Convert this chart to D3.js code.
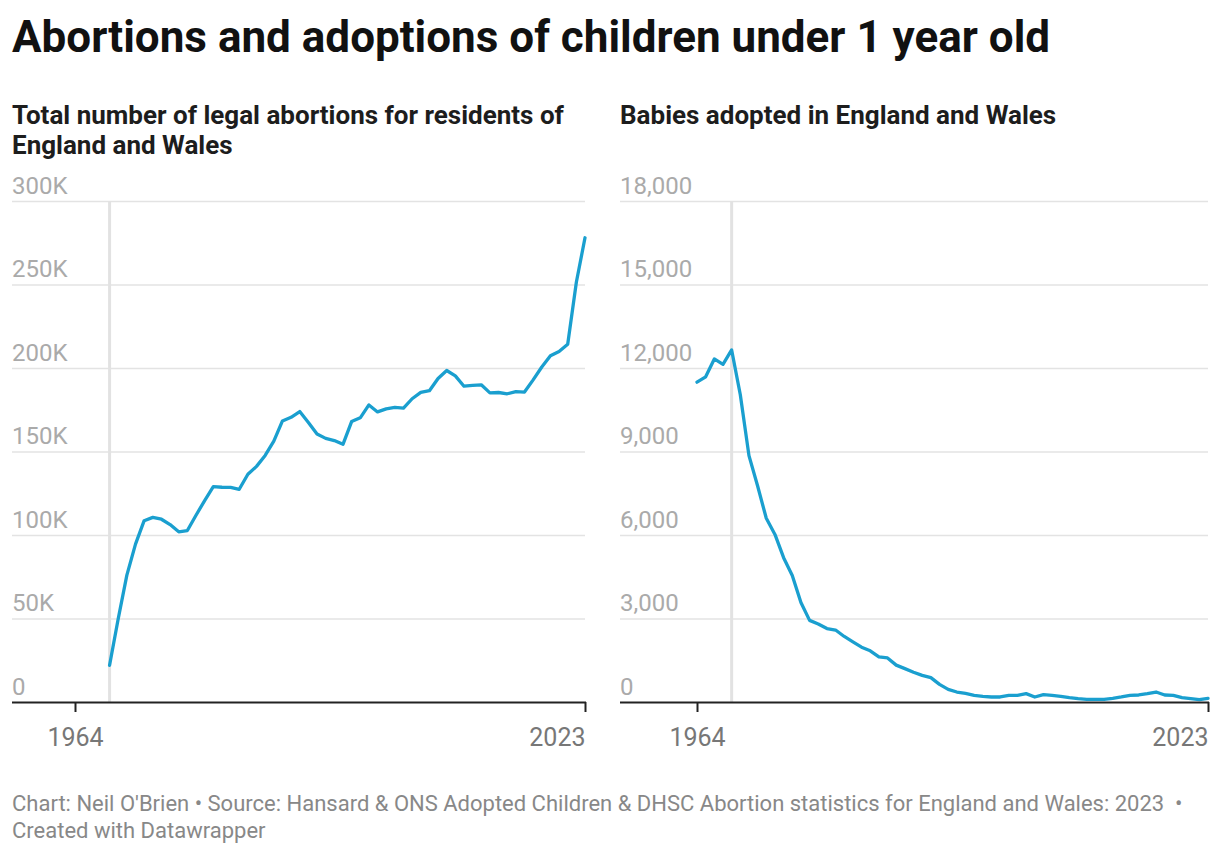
<!DOCTYPE html>
<html><head><meta charset="utf-8">
<script src="https://cdn.jsdelivr.net/npm/d3@7"></script>
<style>
body{margin:0;background:#fff;font-family:Roboto,"Noto Sans",sans-serif;}
svg{display:block;}
</style></head>
<body>
<svg id="c" width="1220" height="854"></svg>
<script>
const abortionYears = d3.range(1968, 2024);
const abortionValues = [
  22000, 49829, 75962, 94570, 108565, 110568, 109445, 106224, 101912, 102677,
  111851, 120611, 128927, 128581, 128553, 127375, 136388, 141101, 147619, 156191,
  168298, 170463, 173900, 167376, 160495, 157846, 156539, 154315, 167916, 170145,
  177871, 173701, 175542, 176364, 175932, 181582, 185415, 186416, 193737, 198499,
  195296, 189100, 189574, 189931, 185122, 185331, 184571, 185824, 185596, 192900,
  200608, 207384, 209917, 214256, 251377, 277970
];
const adoptionYears = d3.range(1964, 2024);
const adoptionValues = [
  11490, 11683, 12326, 12133, 12648, 11039, 8852, 7758, 6600, 6021,
  5185, 4542, 3577, 2933, 2805, 2638, 2586, 2355, 2162, 1969,
  1840, 1621, 1583, 1325, 1200, 1070, 958, 875, 635, 455,
  359, 311, 240, 204, 180, 180, 240, 240, 300, 180,
  264, 240, 204, 156, 120, 96, 96, 96, 132, 180,
  240, 252, 300, 359, 252, 240, 156, 120, 84, 132
];
const leftTicks = [0, 50000, 100000, 150000, 200000, 250000, 300000];
const leftTickLabels = ["0", "50K", "100K", "150K", "200K", "250K", "300K"];
const rightTicks = [0, 3000, 6000, 9000, 12000, 15000, 18000];
const rightTickLabels = ["0", "3,000", "6,000", "9,000", "12,000", "15,000", "18,000"];
const xTickYears = [1964, 2023];
const markerYear = 1968;

const svg = d3.select("#c");
const LINE = "#1a9fcf";

svg.append("text").attr("x", 12).attr("y", 52)
  .attr("font-size", 44).attr("font-weight", 700).attr("fill", "#111")
  .text("Abortions and adoptions of children under 1 year old");

function panel(opt) {
  const g = svg.append("g");
  const x = d3.scaleLinear().domain([1964, 2023]).range([opt.x0, opt.x1]);
  const y = d3.scaleLinear().domain([0, opt.max]).range([702, 201]);

  opt.title.forEach((t, i) => {
    g.append("text").attr("x", opt.left).attr("y", 124 + i * 30)
      .attr("font-size", 26).attr("font-weight", 700).attr("fill", "#1d1d1d").text(t);
  });

  const yAxis = d3.axisRight(y).tickValues(opt.ticks)
    .tickSize(opt.x1 - opt.left)
    .tickFormat((d, i) => opt.labels[i]);
  const ya = g.append("g").attr("transform", `translate(${opt.left},0)`).call(yAxis);
  ya.select(".domain").remove();
  ya.selectAll(".tick line").attr("stroke", "#e3e3e3").attr("stroke-width", 1.5);
  ya.selectAll(".tick text").attr("x", 0).attr("y", -8).attr("dy", 0).attr("text-anchor", "start")
    .attr("font-size", 24).attr("font-family", "Roboto").attr("fill", "#aaaaaa");
  ya.selectAll(".tick").filter(d => d === 0).select("line").remove();

  g.append("line").attr("x1", x(markerYear)).attr("x2", x(markerYear))
    .attr("y1", 201).attr("y2", 702).attr("stroke", "#e2e2e2").attr("stroke-width", 3);

  const line = d3.line().x(d => x(d[0])).y(d => y(d[1]));
  g.append("path").datum(opt.years.map((yr, i) => [yr, opt.values[i]]))
    .attr("d", line).attr("fill", "none").attr("stroke", LINE)
    .attr("stroke-width", 3.3).attr("stroke-linejoin", "round").attr("stroke-linecap", "round");

  g.append("line").attr("x1", opt.left).attr("x2", opt.x1 + 1)
    .attr("y1", 702.5).attr("y2", 702.5).attr("stroke", "#222").attr("stroke-width", 2);
  const xAxis = d3.axisBottom(x).tickValues(xTickYears).tickSize(10).tickSizeOuter(0).tickFormat(d3.format("d"));
  const xa = g.append("g").attr("transform", "translate(0,702)").call(xAxis);
  xa.select(".domain").remove();
  xa.selectAll(".tick line").attr("stroke", "#222").attr("stroke-width", 2);
  xa.selectAll(".tick text").attr("font-size", 25).attr("font-family", "Roboto")
    .attr("fill", "#777").attr("y", 44).attr("dy", 0)
    .attr("text-anchor", d => d === 2023 ? "end" : "middle")
    .attr("x", 0);
}

panel({left: 12, x0: 75, x1: 585, max: 300000, ticks: leftTicks, labels: leftTickLabels,
  years: abortionYears, values: abortionValues,
  title: ["Total number of legal abortions for residents of", "England and Wales"]});
panel({left: 620, x0: 697, x1: 1208, max: 18000, ticks: rightTicks, labels: rightTickLabels,
  years: adoptionYears, values: adoptionValues,
  title: ["Babies adopted in England and Wales"]});

svg.append("text").attr("x", 12).attr("y", 811).attr("font-size", 22).attr("fill", "#888")
  .text("Chart: Neil O'Brien • Source: Hansard & ONS Adopted Children & DHSC Abortion statistics for England and Wales: 2023\u00a0\u00a0•");
svg.append("text").attr("x", 12).attr("y", 838).attr("font-size", 22).attr("fill", "#888")
  .text("Created with Datawrapper");
</script>
</body></html>
